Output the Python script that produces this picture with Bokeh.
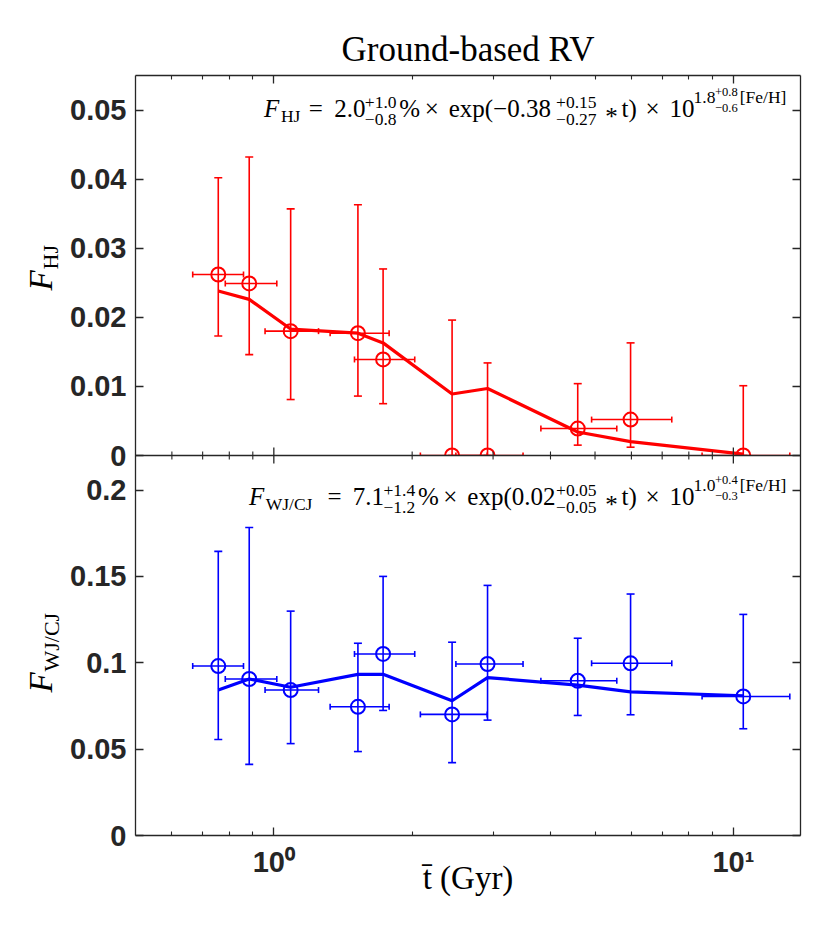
import math
from bokeh.plotting import figure
from bokeh.models import (Range1d, LinearAxis, LogAxis, FixedTicker, Whisker, TeeHead,
                          ColumnDataSource, Label, BoxAnnotation, Span)
from bokeh.embed import file_html
from bokeh.resources import INLINE

# ---------------- data ----------------
t_mid = [0.757, 0.884, 1.088, 1.524, 1.729, 2.443, 2.918, 4.585, 5.975, 10.51]
t_lo = [0.666, 0.784, 0.957, 1.326, 1.498, 2.084, 2.490, 3.812, 4.915, 8.55]
t_hi = [0.859, 1.015, 1.251, 1.782, 2.026, 2.912, 3.486, 5.576, 7.345, 13.27]

f_hj = [0.0262, 0.0249, 0.0180, 0.0177, 0.0139, 0.0, 0.0, 0.0039, 0.0052, 0.0]
f_hj_hi = [0.0402, 0.0432, 0.0357, 0.0363, 0.0270, 0.0196, 0.0134, 0.0104, 0.0163, 0.0101]
f_hj_lo = [0.0173, 0.0146, 0.0081, 0.0086, 0.0075, 0.0, 0.0, 0.0015, 0.0012, 0.0]
f_hj_model = [0.0238, 0.0226, 0.0183, 0.0177, 0.0163, 0.0089, 0.0097, 0.0034, 0.0020, 0.0002]

f_wj = [0.0981, 0.0906, 0.0842, 0.0745, 0.1051, 0.0701, 0.0993, 0.0896, 0.0997, 0.0805]
f_wj_hi = [0.1645, 0.1783, 0.1299, 0.1113, 0.1500, 0.1119, 0.1448, 0.1142, 0.1398, 0.1280]
f_wj_lo = [0.0556, 0.0412, 0.0532, 0.0486, 0.0724, 0.0422, 0.0668, 0.0695, 0.0699, 0.0618]
f_wj_model = [0.0842, 0.0906, 0.0858, 0.0933, 0.0933, 0.0780, 0.0914, 0.0871, 0.0832, 0.0809]

x_major_ticks = [1, 10]
x_minor_ticks = [0.6, 0.7, 0.8, 0.9, 2, 3, 4, 5, 6, 7, 8, 9]
x_tick_labels = ["10\u2070", "10\u00b9"]

bottom_ticks = [0, 0.05, 0.1, 0.15, 0.2]
bottom_tick_labels = ["0", "0.05", "0.1", "0.15", "0.2"]
top_ticks = [0, 0.01, 0.02, 0.03, 0.04, 0.05]
top_tick_labels = ["0", "0.01", "0.02", "0.03", "0.04", "0.05"]

x_lim = (0.5, 14)
top_lim = 0.055
bottom_lim = 0.22

RED = "#ff0000"
BLUE = "#0000ff"
AX = "#262626"

# ---------------- figure (two stacked panels in one frame) ----------------
FL, FB = 135, 835          # page position of frame left / bottom
FW, FH = 665, 760
LEFT_BORDER = 210          # room for axis + side labels; canvas shifted so frame sits at FL
p = figure(frame_width=FW, frame_height=FH, x_axis_type="log",
           x_range=Range1d(*x_lim), y_range=Range1d(0, 2 * bottom_lim),
           output_backend="svg", toolbar_location=None,
           min_border_left=LEFT_BORDER, min_border_right=30, min_border_top=75,
           min_border_bottom=110, title="Ground-based RV")
p.margin = (0, 0, 0, FL - LEFT_BORDER)
p.extra_y_ranges = {"top": Range1d(-top_lim, top_lim)}
p.xgrid.visible = False
p.ygrid.visible = False
p.outline_line_color = None
p.background_fill_color = "white"
p.border_fill_color = "white"

p.title.text_font = "Liberation Serif"
p.title.text_font_size = "35px"
p.title.text_font_style = "normal"
p.title.text_color = "black"
p.title.align = "center"
p.title.standoff = 13

# combined y ticks: bottom panel values and top panel values mapped onto main range
scale = bottom_lim / top_lim
y_pos = [round(v, 5) for v in bottom_ticks] + [round(bottom_lim + v * scale, 5) for v in top_ticks]
y_lab = bottom_tick_labels + top_tick_labels
y_overrides = {pos: lab for pos, lab in zip(y_pos, y_lab)}
x_overrides = {pos: lab for pos, lab in zip(x_major_ticks, x_tick_labels)}


def style_axis(ax, labels):
    ax.axis_line_color = AX
    ax.axis_line_width = 1.3
    ax.major_tick_line_color = AX
    ax.minor_tick_line_color = AX
    ax.major_tick_line_width = 1.3
    ax.minor_tick_line_width = 1.1
    ax.major_tick_in = 8
    ax.major_tick_out = 0
    ax.minor_tick_in = 4
    ax.minor_tick_out = 0
    if labels:
        ax.major_label_text_font = "Liberation Sans"
        ax.major_label_text_font_style = "bold"
        ax.major_label_text_font_size = "29px"
        ax.major_label_text_color = AX
    else:
        ax.major_label_text_font_size = "2px"
        ax.major_label_text_color = None
        ax.major_label_standoff = 0


xt = FixedTicker(ticks=x_major_ticks, minor_ticks=x_minor_ticks)
yt = FixedTicker(ticks=y_pos)

bx = p.below[0]
bx.ticker = xt
bx.major_label_overrides = x_overrides
style_axis(bx, True)
bx.major_label_standoff = 10
bx.axis_label = "t\u0304 (Gyr)"
bx.axis_label_text_font = "Liberation Serif"
bx.axis_label_text_font_size = "33px"
bx.axis_label_text_font_style = "normal"
bx.axis_label_text_color = "black"
bx.axis_label_standoff = -21

ly = p.left[0]
ly.ticker = yt
ly.major_label_overrides = y_overrides
style_axis(ly, True)
ly.major_label_standoff = 9

ax_top = LogAxis(ticker=FixedTicker(ticks=x_major_ticks, minor_ticks=x_minor_ticks))
style_axis(ax_top, False)
p.add_layout(ax_top, "above")
ax_right = LinearAxis(ticker=FixedTicker(ticks=y_pos))
style_axis(ax_right, False)
p.add_layout(ax_right, "right")

# boundary between the panels
p.add_layout(Span(location=bottom_lim, dimension="width", line_color=AX,
                  line_width=1.3, level="guide"))
maj_len = 8 * (2 * bottom_lim) / FH
min_len = 4 * (2 * bottom_lim) / FH
p.segment(x0=x_major_ticks, x1=x_major_ticks,
          y0=[bottom_lim - maj_len] * len(x_major_ticks),
          y1=[bottom_lim + maj_len] * len(x_major_ticks),
          line_color=AX, line_width=1.3, level="guide")
p.segment(x0=x_minor_ticks, x1=x_minor_ticks,
          y0=[bottom_lim - min_len] * len(x_minor_ticks),
          y1=[bottom_lim + min_len] * len(x_minor_ticks),
          line_color=AX, line_width=1.1, level="guide")

# ---------------- top panel (HJ) ----------------
src_top = ColumnDataSource(dict(t=t_mid, tlo=t_lo, thi=t_hi, y=f_hj,
                                lo=f_hj_lo, hi=f_hj_hi, m=f_hj_model))
p.add_layout(Whisker(base="t", lower="lo", upper="hi", source=src_top, dimension="height",
                     y_range_name="top", level="image", line_color=RED, line_width=1.6,
                     upper_head=TeeHead(size=8, line_color=RED, line_width=1.6),
                     lower_head=TeeHead(size=8, line_color=RED, line_width=1.6)))
p.add_layout(Whisker(base="y", lower="tlo", upper="thi", source=src_top, dimension="width",
                     y_range_name="top", level="image", line_color=RED, line_width=1.6,
                     upper_head=TeeHead(size=6, line_color=RED, line_width=1.6),
                     lower_head=TeeHead(size=6, line_color=RED, line_width=1.6)))
p.line("t", "m", source=src_top, y_range_name="top", line_color=RED, line_width=3.2,
       level="image")
p.scatter("t", "y", source=src_top, y_range_name="top", marker="circle", size=14,
          fill_color=None, line_color=RED, line_width=2, level="image")

# mask that clips the top panel at the boundary
p.add_layout(BoxAnnotation(top=bottom_lim, fill_color="white", fill_alpha=1.0,
                           line_alpha=0, level="underlay"))

# ---------------- bottom panel (WJ/CJ) ----------------
src_bot = ColumnDataSource(dict(t=t_mid, tlo=t_lo, thi=t_hi, y=f_wj,
                                lo=f_wj_lo, hi=f_wj_hi, m=f_wj_model))
p.add_layout(Whisker(base="t", lower="lo", upper="hi", source=src_bot, dimension="height",
                     level="glyph", line_color=BLUE, line_width=1.6,
                     upper_head=TeeHead(size=8, line_color=BLUE, line_width=1.6),
                     lower_head=TeeHead(size=8, line_color=BLUE, line_width=1.6)))
p.add_layout(Whisker(base="y", lower="tlo", upper="thi", source=src_bot, dimension="width",
                     level="glyph", line_color=BLUE, line_width=1.6,
                     upper_head=TeeHead(size=6, line_color=BLUE, line_width=1.6),
                     lower_head=TeeHead(size=6, line_color=BLUE, line_width=1.6)))
p.line("t", "m", source=src_bot, line_color=BLUE, line_width=3.2)
p.scatter("t", "y", source=src_bot, marker="circle", size=14,
          fill_color=None, line_color=BLUE, line_width=2)

# ---------------- texts ----------------
BASE_FIX = 0.37   # renderer places the alphabetic baseline this many ems lower


def put(text, px, py, size, italic=False):
    p.add_layout(Label(x=px - FL, y=FB - py + BASE_FIX * size, x_units="screen",
                       y_units="screen", text=text, text_font="Liberation Serif",
                       text_font_size=f"{size}px",
                       text_font_style="italic" if italic else "normal",
                       text_color="black", text_baseline="alphabetic",
                       text_align="left", level="overlay"))


def put_side(text, px, py, size, italic=False):
    px = px - BASE_FIX * size
    lx0, lx1 = math.log10(x_lim[0]), math.log10(x_lim[1])
    xd = 10 ** (lx0 + (px - FL) / FW * (lx1 - lx0))
    yd = (FB - py) / FH * (2 * bottom_lim)
    p.add_layout(Label(x=xd, y=yd, text=text, text_font="Liberation Serif",
                       text_font_size=f"{size}px",
                       text_font_style="italic" if italic else "normal",
                       text_color="black", text_baseline="alphabetic",
                       text_align="left", angle=math.pi / 2), "left")


S = 24.0
SIZES = {"m": 25, "s": 17.5, "ss": 12.5}


def formula(parts, x_right, base_py):
    total = sum(w for (_, _, _, w, _, _, adv) in parts if adv) * S
    x = x_right - total
    for text, k, dy, w, lead, it, adv in parts:
        put(text, x + lead * S, base_py + dy, SIZES[k], italic=it)
        if adv:
            x += w * S


def ratio_parts(sub, w_sub, main, sup_a, sub_a, w_a, inner, exp_main, sup_b, sub_b, w_b,
                exp_e, sup_e, sub_e):
    return [
        ("F", "m", 0, 0.70, 0, True, True),
        (sub, "s", 5, w_sub, 0, False, True),
        ("=", "m", 0, 1.334, 0.278, False, True),
        (main, "m", 0, 1.278, 0, False, True),
        (sup_a, "s", -9, w_a, 0, False, False),
        (sub_a, "s", 8, w_a, 0, False, True),
        ("%", "m", 0, 0.833, 0, False, True),
        ("\u00d7", "m", 0, 1.222, 0.222, False, True),
        (inner, "m", 0, exp_main, 0, False, True),
        (sup_b, "s", -9, w_b, 0, False, False),
        (sub_b, "s", 8, w_b, 0, False, True),
        ("*", "m", 8, 0.944, 0.26, False, True),
        ("t)", "m", 0, 0.778, 0, False, True),
        ("\u00d7", "m", 0, 1.222, 0.222, False, True),
        ("10", "m", 0, 1.0, 0, False, True),
        (exp_e, "s", -14, 0.894, 0, False, True),
        (sup_e, "ss", -21, 1.028, 0, False, False),
        (sub_e, "ss", -5, 1.028, 0, False, True),
        ("[Fe/H]", "s", -14, 2.032, 0, False, True),
    ]


parts_hj = ratio_parts("HJ", 0.885, "2.0", "+1.0", "\u22120.8", 1.439, "exp(\u22120.38", 4.473,
                       "+0.15", "\u22120.27", 1.789, "1.8", "+0.8", "\u22120.6")
formula(parts_hj, 788, 117)

parts_wj = ratio_parts("WJ/CJ", 2.295, "7.1", "+1.4", "\u22121.2", 1.439, "exp(0.02", 3.695,
                       "+0.05", "\u22120.05", 1.789, "1.0", "+0.4", "\u22120.3")
formula(parts_wj, 788, 505)

# y-axis labels (rotated), placed in the left side panel so they are not clipped
put_side("F", 53, 290, 33, italic=True)
put_side("HJ", 58, 269, 22)
put_side("F", 53, 692, 33, italic=True)
put_side("WJ/CJ", 59, 671, 22)

open("out.html", "w").write(file_html(p, INLINE))
